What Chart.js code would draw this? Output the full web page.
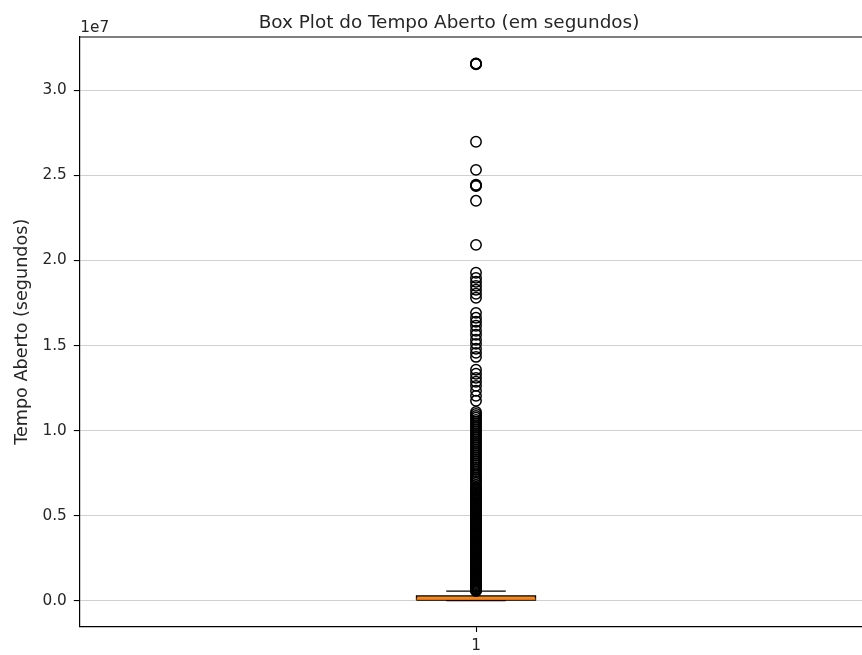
<!DOCTYPE html>
<html>
<head>
<meta charset="utf-8">
<title>Box Plot do Tempo Aberto</title>
<script src="https://cdn.jsdelivr.net/npm/chart.js@4.4.1/dist/chart.umd.min.js"></script>
<style>
  body { margin: 0; background: #fff; overflow: hidden; }
</style>
</head>
<body>
<canvas id="boxChart" width="862" height="655"></canvas>
<script>
// box statistics (seconds)
var boxCategory = 1;
var xTickLabels = ['1'];
var q1 = 25000;
var median = 100000;
var q3 = 276000;
var whiskerLow = 0;
var whiskerHigh = 555000;

// fliers (seconds)
var outlierValues = [
  31570000, 31560000, 31540000, 31580000,
  26980000, 25330000, 24450000, 24400000, 24380000, 23510000, 20920000,
  19280000, 18980000, 18750000, 18510000, 18280000, 18040000, 17810000,
  16920000, 16630000, 16400000, 16160000, 15870000, 15630000, 15340000, 15100000, 14810000, 14570000, 14330000,
  13580000, 13340000, 13100000, 12870000, 12630000, 12340000, 12040000, 11750000,
  11100000, 10980000, 10860000, 10750000, 10630000, 10510000, 10390000, 10270000, 10160000, 10040000,
  9920000, 9800000, 9690000, 9570000, 9450000, 9330000, 9220000, 9100000, 8980000, 8860000,
  8750000, 8630000, 8510000, 8390000, 8280000, 8160000, 8040000, 7930000, 7810000, 7690000,
  7570000, 7440000, 7330000, 7220000, 7120000, 7030000, 6930000, 6800000, 6690000, 6600000,
  6530000, 6450000, 6370000, 6300000, 6240000, 6170000, 6110000, 6050000, 5980000, 5920000,
  5860000, 5790000, 5730000, 5670000, 5600000, 5540000, 5480000, 5410000, 5350000, 5290000,
  5220000, 5160000, 5100000, 5030000, 4970000, 4910000, 4840000, 4780000, 4720000, 4650000,
  4590000, 4530000, 4460000, 4400000, 4340000, 4270000, 4210000, 4150000, 4080000, 4020000,
  3960000, 3890000, 3830000, 3770000, 3700000, 3640000, 3580000, 3510000, 3450000, 3390000,
  3320000, 3260000, 3200000, 3130000, 3070000, 3010000, 2940000, 2880000, 2820000, 2750000,
  2690000, 2630000, 2560000, 2500000, 2440000, 2370000, 2310000, 2250000, 2180000, 2120000,
  2060000, 1990000, 1930000, 1870000, 1800000, 1740000, 1680000, 1610000, 1550000, 1490000,
  1420000, 1360000, 1300000, 1230000, 1170000, 1110000, 1040000, 980000, 910000, 850000,
  790000, 720000, 660000, 610000, 570000
];

var yTickValues = [0, 5000000, 10000000, 15000000, 20000000, 25000000, 30000000];
var yMin = -1520000;
var yMax = 33140000;
var xMin = 0.5;
var xMax = 1.4865;

var boxHalf = 0.075;
var capHalf = 0.0375;

Chart.defaults.font.family = "'DejaVu Sans', sans-serif";
Chart.defaults.color = '#262626';

// title, offset text and top spine
var framePlugin = {
  id: 'frame',
  afterDraw: function (chart) {
    var ctx = chart.ctx;
    var area = chart.chartArea;
    ctx.save();
    ctx.strokeStyle = '#000';
    ctx.lineWidth = 1.2;
    ctx.beginPath();
    ctx.moveTo(area.left, area.top);
    ctx.lineTo(area.right, area.top);
    ctx.stroke();

    ctx.fillStyle = '#262626';
    ctx.font = "15.3px 'DejaVu Sans'";
    ctx.textAlign = 'left';
    ctx.textBaseline = 'alphabetic';
    ctx.fillText('1e7', area.left + 1, area.top - 5);

    ctx.font = "18.4px 'DejaVu Sans'";
    ctx.textAlign = 'center';
    ctx.fillText('Box Plot do Tempo Aberto (em segundos)', 449, area.top - 9);
    ctx.restore();
  }
};

var pt = function (x, y) { return { x: x, y: y }; };

var ctx = document.getElementById('boxChart').getContext('2d');
var chart = new Chart(ctx, {
  type: 'scatter',
  data: {
    datasets: [
      {
        label: 'outliers',
        data: outlierValues.map(function (v) { return pt(boxCategory, v); }),
        pointStyle: 'circle',
        pointRadius: 5.2,
        pointBorderWidth: 1.5,
        pointBorderColor: '#000',
        pointBackgroundColor: 'rgba(0,0,0,0)',
        showLine: false
      },
      {
        label: 'median',
        data: [pt(boxCategory - boxHalf, median), pt(boxCategory + boxHalf, median)],
        showLine: true,
        borderColor: '#ff7f0e',
        borderWidth: 1.5,
        pointRadius: 0
      },
      {
        label: 'box',
        data: [
          pt(boxCategory - boxHalf, q1), pt(boxCategory + boxHalf, q1),
          pt(boxCategory + boxHalf, q3), pt(boxCategory - boxHalf, q3),
          pt(boxCategory - boxHalf, q1)
        ],
        showLine: true,
        fill: 'shape',
        backgroundColor: '#ef8a2a',
        borderColor: '#000',
        borderWidth: 1.3,
        pointRadius: 0
      },
      {
        label: 'upper whisker',
        data: [pt(boxCategory, q3), pt(boxCategory, whiskerHigh)],
        showLine: true, borderColor: '#000', borderWidth: 1.3, pointRadius: 0
      },
      {
        label: 'upper cap',
        data: [pt(boxCategory - capHalf, whiskerHigh), pt(boxCategory + capHalf, whiskerHigh)],
        showLine: true, borderColor: '#000', borderWidth: 1.3, pointRadius: 0
      },
      {
        label: 'lower cap',
        data: [pt(boxCategory - capHalf, whiskerLow), pt(boxCategory + capHalf, whiskerLow)],
        showLine: true, borderColor: '#000', borderWidth: 1.3, pointRadius: 0
      }
    ]
  },
  options: {
    responsive: false,
    animation: false,
    layout: { autoPadding: false, padding: { top: 37, left: 0, right: 0, bottom: 0 } },
    plugins: {
      legend: { display: false },
      tooltip: { enabled: false },
      title: { display: false }
    },
    scales: {
      x: {
        type: 'linear',
        min: xMin,
        max: xMax,
        afterBuildTicks: function (axis) {
          axis.ticks = [{ value: boxCategory }];
        },
        afterFit: function (axis) {
          axis.height = 28.5;
          axis.paddingLeft = 0;
          axis.paddingRight = 0;
        },
        ticks: {
          callback: function (v, i) { return xTickLabels[i]; },
          font: { size: 15.3 },
          color: '#262626',
          padding: 5,
          maxRotation: 0
        },
        grid: {
          drawOnChartArea: false,
          tickLength: 5.5,
          tickColor: '#000',
          tickWidth: 1.1
        },
        border: { color: '#000', width: 1.2 }
      },
      y: {
        type: 'linear',
        min: yMin,
        max: yMax,
        afterBuildTicks: function (axis) {
          axis.ticks = yTickValues.map(function (v) { return { value: v }; });
        },
        afterFit: function (axis) { axis.width = 79.3; },
        ticks: {
          callback: function (v) { return (v / 1e7).toFixed(1); },
          font: { size: 15.3 },
          color: '#262626',
          padding: 7
        },
        title: {
          display: true,
          text: 'Tempo Aberto (segundos)',
          font: { size: 17.6 },
          color: '#262626',
          padding: { top: 12, bottom: 0 }
        },
        grid: {
          color: '#d0d0d0',
          lineWidth: 1.1,
          tickLength: 5.5,
          tickColor: '#000',
          tickWidth: 1.1
        },
        border: { color: '#000', width: 1.2 }
      }
    }
  },
  plugins: [framePlugin]
});
</script>
</body>
</html>
